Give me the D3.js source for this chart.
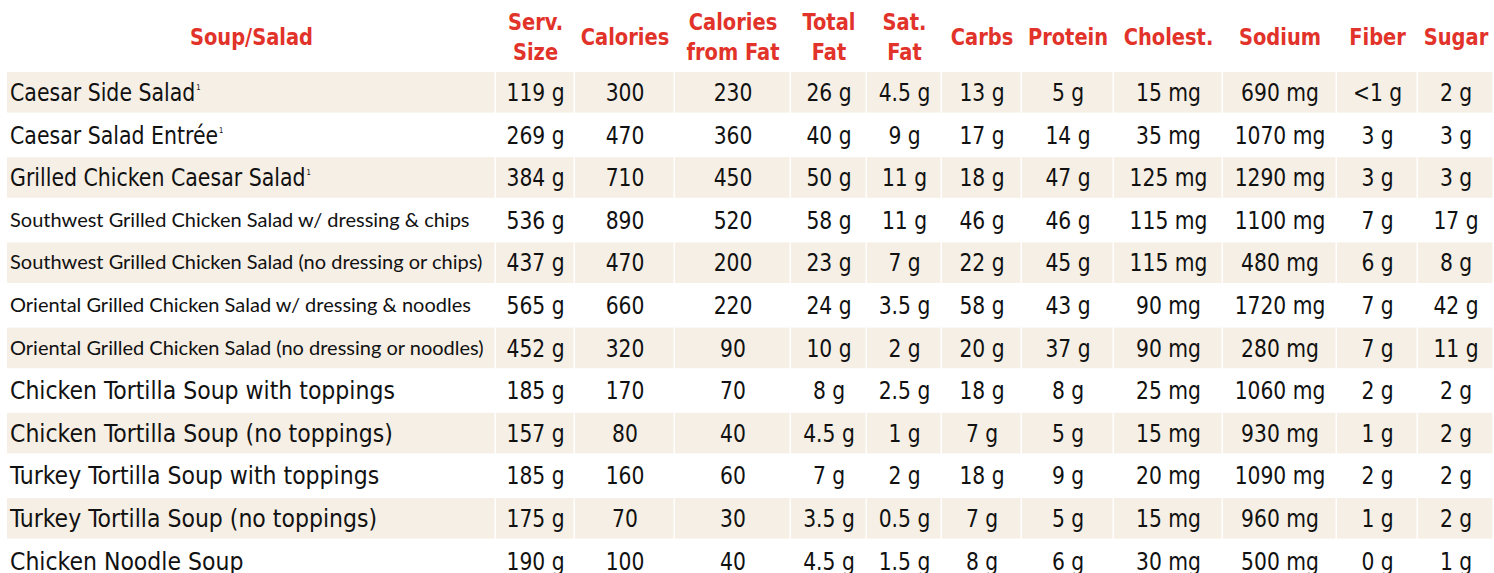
<!DOCTYPE html>
<html>
<head>
<meta charset="utf-8">
<script src="https://cdn.jsdelivr.net/npm/d3@7"></script>
<style>
body { margin: 0; background: #fff; }
.cond { font-family: "Liberation Sans Narrow", "DejaVu Sans Condensed", sans-serif; }
.head { font-family: "Liberation Sans Narrow", "DejaVu Sans Condensed", sans-serif; font-weight: bold; fill: #e2332a; font-size: 23px; }
.small { font-family: "Lato", "Noto Sans", sans-serif; }
</style>
</head>
<body>
<div id="table"></div>
<script>
// Table contents
var headers = [["Soup/Salad"], ["Serv.", "Size"], ["Calories"], ["Calories", "from Fat"], ["Total", "Fat"],
    ["Sat.", "Fat"], ["Carbs"], ["Protein"], ["Cholest."], ["Sodium"], ["Fiber"], ["Sugar"]];
var items = ["Caesar Side Salad", "Caesar Salad Entrée", "Grilled Chicken Caesar Salad",
    "Southwest Grilled Chicken Salad w/ dressing & chips", "Southwest Grilled Chicken Salad (no dressing or chips)",
    "Oriental Grilled Chicken Salad w/ dressing & noodles", "Oriental Grilled Chicken Salad (no dressing or noodles)",
    "Chicken Tortilla Soup with toppings", "Chicken Tortilla Soup (no toppings)",
    "Turkey Tortilla Soup with toppings", "Turkey Tortilla Soup (no toppings)", "Chicken Noodle Soup"];
var footnote = [1, 1, 1, 0, 0, 0, 0, 0, 0, 0, 0, 0];
var servSize = [119, 269, 384, 536, 437, 565, 452, 185, 157, 185, 175, 190];
var calories = [300, 470, 710, 890, 470, 660, 320, 170, 80, 160, 70, 100];
var calFat = [230, 360, 450, 520, 200, 220, 90, 70, 40, 60, 30, 40];
var totalFat = [26, 40, 50, 58, 23, 24, 10, 8, 4.5, 7, 3.5, 4.5];
var satFat = [4.5, 9, 11, 11, 7, 3.5, 2, 2.5, 1, 2, 0.5, 1.5];
var carbs = [13, 17, 18, 46, 22, 58, 20, 18, 7, 18, 7, 8];
var protein = [5, 14, 47, 46, 45, 43, 37, 8, 5, 9, 5, 6];
var cholest = [15, 35, 125, 115, 115, 90, 90, 25, 15, 20, 15, 30];
var sodium = [690, 1070, 1290, 1100, 480, 1720, 280, 1060, 930, 1090, 960, 500];
var fiber = ["<1", 3, 3, 7, 6, 7, 7, 2, 1, 2, 1, 0];
var sugar = [2, 3, 3, 17, 8, 42, 11, 2, 2, 2, 2, 1];

var columns = [
    {vals: servSize, unit: " g"}, {vals: calories, unit: ""}, {vals: calFat, unit: ""},
    {vals: totalFat, unit: " g"}, {vals: satFat, unit: " g"}, {vals: carbs, unit: " g"},
    {vals: protein, unit: " g"}, {vals: cholest, unit: " mg"}, {vals: sodium, unit: " mg"},
    {vals: fiber, unit: " g"}, {vals: sugar, unit: " g"}
];

var width = 1494, height = 573;
var colWidths = [489, 79, 100, 116, 76, 75, 80, 92, 109, 114, 81, 76];
var tableLeft = 7, tableTop = 72, rowH = 42.6;
var squeeze = 0.94; // the original font is narrower than DejaVu Condensed
var colX = [tableLeft];
colWidths.forEach(function(w, i) { colX.push(colX[i] + w); });

var svg = d3.select("#table").append("svg")
    .attr("width", width)
    .attr("height", height);

var yScale = d3.scaleBand()
    .domain(d3.range(items.length))
    .range([tableTop, tableTop + rowH * items.length]);

function isSmall(i) { return i >= 3 && i <= 6; }

// header
headers.forEach(function(h, i) {
    var cx = (colX[i] + colX[i + 1]) / 2;
    var t = svg.append("text")
        .attr("class", "head")
        .attr("text-anchor", "middle")
        .attr("transform", "translate(" + cx + ",0) scale(" + squeeze + ",1)");
    if (h.length === 1) {
        t.attr("y", 45).text(h[0]);
    } else {
        t.append("tspan").attr("x", 0).attr("y", 30).text(h[0]);
        t.append("tspan").attr("x", 0).attr("y", 60).text(h[1]);
    }
});

// shaded row cells
var rows = svg.selectAll("g.row")
    .data(items)
    .enter().append("g")
    .attr("class", "row")
    .attr("transform", function(d, i) { return "translate(0," + yScale(i) + ")"; });

rows.filter(function(d, i) { return i % 2 === 0; })
    .selectAll("rect")
    .data(colWidths)
    .enter().append("rect")
    .attr("x", function(d, i) { return colX[i]; })
    .attr("y", 0)
    .attr("width", function(d, i) { return d - 1.5; })
    .attr("height", yScale.bandwidth() - 2)
    .style("fill", "#f6efe5");

// item names
rows.append("text")
    .attr("class", function(d, i) { return isSmall(i) ? "small" : "cond"; })
    .attr("transform", function(d, i) {
        if (isSmall(i)) return "translate(10,27)";
        return "translate(10,29) scale(" + (i < 3 ? 0.95 : 1.02) + ",1)";
    })
    .style("font-size", function(d, i) { return isSmall(i) ? "20px" : "24px"; })
    .style("fill", "#111")
    .each(function(d, i) {
        var t = d3.select(this);
        t.append("tspan").text(d);
        if (footnote[i]) {
            t.append("tspan").attr("dy", -11).attr("dx", 1).style("font-size", "8px").text("1");
        }
    });

// values
columns.forEach(function(c, j) {
    var cx = (colX[j + 1] + colX[j + 2]) / 2;
    rows.append("text")
        .attr("class", "cond")
        .attr("text-anchor", "middle")
        .attr("transform", "translate(" + cx + ",29) scale(" + squeeze + ",1)")
        .style("font-size", "24px")
        .style("fill", "#111")
        .text(function(d, i) { return c.vals[i] + c.unit; });
});
</script>
</body>
</html>
